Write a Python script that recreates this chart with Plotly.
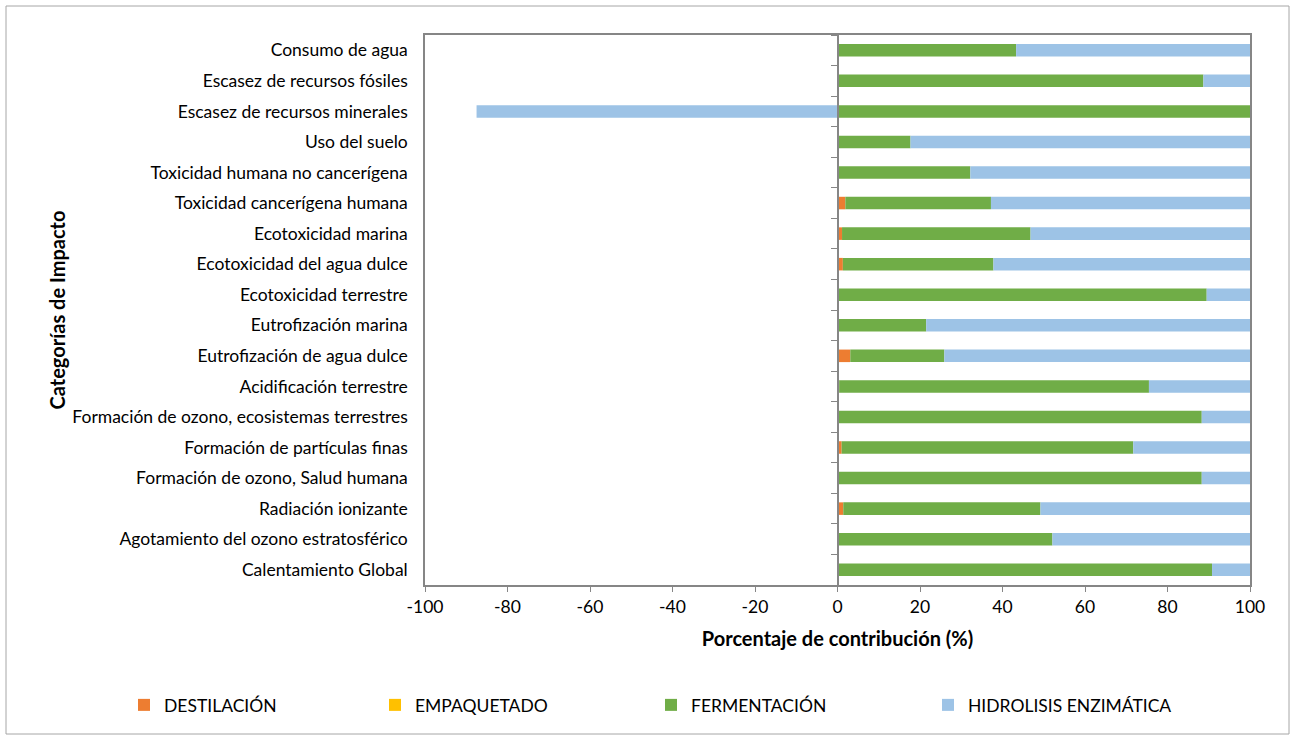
import plotly.graph_objects as go

categorias = [
    "Consumo de agua",
    "Escasez de recursos fósiles",
    "Escasez de recursos minerales",
    "Uso del suelo",
    "Toxicidad humana no cancerígena",
    "Toxicidad cancerígena humana",
    "Ecotoxicidad marina",
    "Ecotoxicidad del agua dulce",
    "Ecotoxicidad terrestre",
    "Eutrofización marina",
    "Eutrofización de agua dulce",
    "Acidificación terrestre",
    "Formación de ozono, ecosistemas terrestres",
    "Formación de partículas finas",
    "Formación de ozono, Salud humana",
    "Radiación ionizante",
    "Agotamiento del ozono estratosférico",
    "Calentamiento Global",
]

destilacion = [0.0, 0.3, 0.3, 0.0, 0.3, 1.9, 1.1, 1.3, 0.0, 0.0, 3.1, 0.4, 0.0, 1.0, 0.0, 1.4, 0.1, 0.3]
empaquetado = [0.0, 0.0, 0.0, 0.0, 0.0, 0.0, 0.0, 0.0, 0.0, 0.0, 0.0, 0.0, 0.0, 0.0, 0.0, 0.0, 0.0, 0.0]
fermentacion = [43.3, 88.4, 99.7, 17.7, 31.9, 35.3, 45.7, 36.5, 89.5, 21.5, 22.8, 75.1, 88.3, 70.7, 88.3, 47.8, 52.0, 90.5]
hidrolisis = [56.7, 11.3, -87.5, 82.3, 67.8, 62.8, 53.2, 62.2, 10.5, 78.5, 74.1, 24.5, 11.7, 28.3, 11.7, 50.8, 47.9, 9.2]

x_ticks = [-100, -80, -60, -40, -20, 0, 20, 40, 60, 80, 100]
x_tick_labels = ["-100", "-80", "-60", "-40", "-20", "0", "20", "40", "60", "80", "100"]

series = [
    ("DESTILACIÓN", destilacion, "#ED7D31", "legend"),
    ("EMPAQUETADO", empaquetado, "#FFC000", "legend2"),
    ("FERMENTACIÓN", fermentacion, "#70AD47", "legend3"),
    ("HIDROLISIS ENZIMÁTICA", hidrolisis, "#9DC3E6", "legend4"),
]

FONT = "Lato"
FS = 17.5
W, H = 1294, 740
ML, MR, MT, MB = 425, 44, 35, 155
PW, PH = W - ML - MR, H - MT - MB

fig = go.Figure()
for name, vals, color, lg in series:
    fig.add_trace(go.Bar(
        y=categorias, x=vals, name=name, orientation="h",
        marker=dict(color=color, line=dict(width=0)),
        legend=lg,
    ))

# hidden trace to make the secondary (zero-crossing) y axis exist
fig.add_trace(go.Scatter(x=[None], y=[None], yaxis="y2", showlegend=False, hoverinfo="skip"))

def px_x(p):
    return (p - ML) / PW

def px_y(p):
    return (H - MB - p) / PH

legend_common = dict(
    orientation="h", yanchor="middle", xanchor="left",
    font=dict(family=FONT, size=FS, color="#000000"),
    bgcolor="rgba(0,0,0,0)", borderwidth=0, itemwidth=30,
)
text_starts = [164, 415, 691, 968]
legends = {}
for i, key in enumerate(["legend", "legend2", "legend3", "legend4"]):
    legends[key] = dict(legend_common, x=px_x(text_starts[i] - 40), y=px_y(705))

fig.update_layout(
    width=W, height=H,
    margin=dict(l=ML, r=MR, t=MT, b=MB),
    paper_bgcolor="white", plot_bgcolor="white",
    barmode="relative", bargap=0.59,
    font=dict(family=FONT, size=FS, color="#000000"),
    xaxis=dict(
        range=[-100, 100], tickvals=x_ticks, ticktext=x_tick_labels,
        showgrid=False, zeroline=False,
        showline=True, mirror=True, linecolor="#868686", linewidth=1.5,
        ticks="outside", ticklen=5, tickcolor="#868686",
        tickfont=dict(family=FONT, size=FS, color="#000000"),
        title=dict(text="<b>Porcentaje de contribución (%)</b>",
                   font=dict(family=FONT, size=20, color="#000000"), standoff=16),
    ),
    yaxis=dict(
        type="category", categoryarray=categorias, autorange=False, range=[17.5, -0.5],
        showgrid=False, zeroline=False,
        showline=True, mirror=True, linecolor="#868686", linewidth=1.5,
        ticks="", ticklabelstandoff=12,
        tickfont=dict(family=FONT, size=FS, color="#000000"),
        title=dict(text="<b>Categorías de Impacto</b>",
                   font=dict(family=FONT, size=20, color="#000000"), standoff=1),
    ),
    yaxis2=dict(
        overlaying="y", anchor="free", position=0.5, side="left",
        range=[17.5, -0.5], tickvals=[i - 0.5 for i in range(19)],
        showticklabels=False, showgrid=False, zeroline=False,
        showline=True, linecolor="#868686", linewidth=1.5,
        ticks="outside", ticklen=6, tickcolor="#868686",
    ),
    shapes=[dict(
        type="rect", xref="paper", yref="paper",
        x0=px_x(6), x1=px_x(1289), y0=px_y(734), y1=px_y(6),
        line=dict(color="#A6A6A6", width=1), fillcolor="rgba(0,0,0,0)", layer="below",
    )],
    **legends,
)

fig.write_html("out.html")
